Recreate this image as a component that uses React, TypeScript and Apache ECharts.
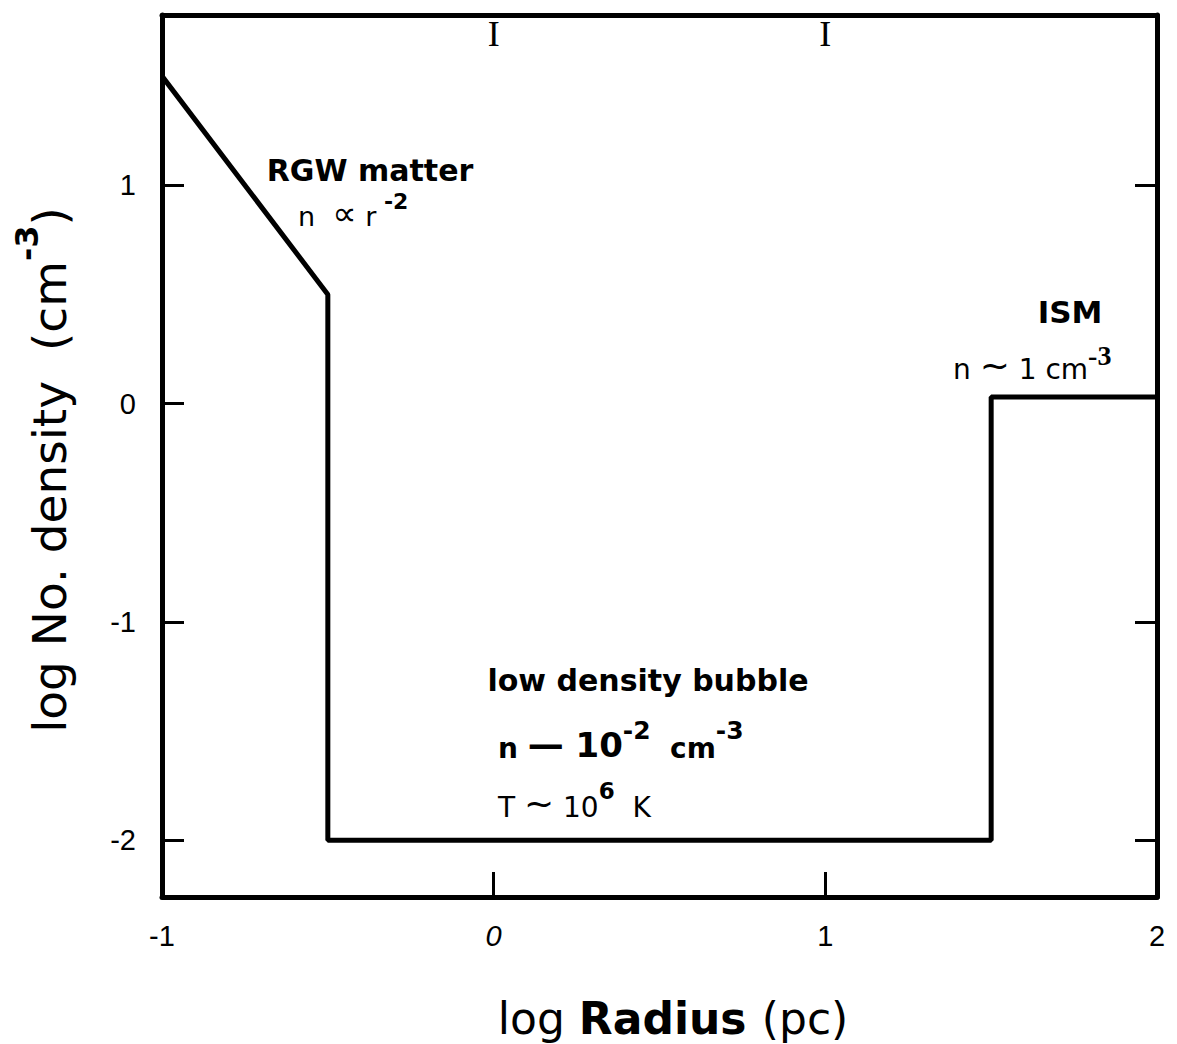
import React, { useEffect, useRef } from "react";
import * as echarts from "echarts";

const xRange = [-1, 2];
const yRange = [-2.26, 1.78];
const xTickLabels = [-1, 0, 1, 2];
const xInnerTicks = [0, 1];
const yTicksLeft = [1, 0, -1, -2];
const yTicksRight = [1, -1, -2];
const profileLogR = [-1, -0.5, -0.5, 1.5, 1.5, 2];
const profileLogN = [1.5, 0.5, -2, -2, 0.03, 0.03];

const FONT = "DejaVu Sans";
const LABEL_FONT = "Liberation Sans";

export default function App() {
  const ref = useRef<HTMLDivElement>(null);
  useEffect(() => {
    if (!ref.current) return;
    const chart = echarts.init(ref.current, null, { renderer: "svg" });
    const data = profileLogR.map((r, i) => [r, profileLogN[i]]);
    const axisLine = { show: true, onZero: false, lineStyle: { color: "#000", width: 5 } };
    const sup = (fs: number, lh: number, bold = true) => ({
      fontSize: fs,
      fontFamily: FONT,
      fontWeight: bold ? "bold" : "normal",
      verticalAlign: "top",
      lineHeight: lh,
      fill: "#000",
    });
    const base = (fs: number, lh: number, bold = false) => ({
      fontSize: fs,
      fontFamily: FONT,
      fontWeight: bold ? "bold" : "normal",
      verticalAlign: "bottom",
      lineHeight: lh,
      fill: "#000",
    });
    chart.setOption({
      animation: false,
      backgroundColor: "#fff",
      grid: { left: 162, right: 20, top: 15, bottom: 147 },
      xAxis: [
        {
          type: "value",
          min: xRange[0],
          max: xRange[1],
          position: "bottom",
          axisLine,
          splitLine: { show: false },
          axisTick: {
            show: true,
            inside: true,
            length: 25,
            customValues: xInnerTicks,
            lineStyle: { color: "#000", width: 3 },
          },
          axisLabel: {
            show: true,
            customValues: xTickLabels,
            margin: 24,
            color: "#000",
            fontSize: 29,
            fontFamily: LABEL_FONT,
            formatter: (v: number) => (v === 0 ? "{i|0}" : String(v)),
            rich: { i: { fontStyle: "italic", fontSize: 29, fontFamily: LABEL_FONT, color: "#000" } },
          },
        },
        {
          type: "value",
          min: xRange[0],
          max: xRange[1],
          position: "top",
          axisLine,
          splitLine: { show: false },
          axisTick: { show: false },
          axisLabel: {
            show: true,
            inside: true,
            customValues: xInnerTicks,
            margin: 1,
            color: "#000",
            fontSize: 36,
            fontFamily: "Liberation Serif",
            formatter: () => "I",
          },
        },
      ],
      yAxis: [
        {
          type: "value",
          min: yRange[0],
          max: yRange[1],
          position: "left",
          axisLine,
          splitLine: { show: false },
          axisTick: {
            show: true,
            inside: true,
            length: 22,
            customValues: yTicksLeft,
            lineStyle: { color: "#000", width: 3 },
          },
          axisLabel: {
            show: true,
            customValues: yTicksLeft,
            margin: 26,
            color: "#000",
            fontSize: 29,
            fontFamily: LABEL_FONT,
          },
        },
        {
          type: "value",
          min: yRange[0],
          max: yRange[1],
          position: "right",
          axisLine,
          splitLine: { show: false },
          axisTick: {
            show: true,
            inside: true,
            length: 22,
            customValues: yTicksRight,
            lineStyle: { color: "#000", width: 3 },
          },
          axisLabel: { show: false },
        },
      ],
      series: [
        {
          type: "line",
          data,
          xAxisIndex: 0,
          yAxisIndex: 0,
          symbol: "none",
          lineStyle: { color: "#000", width: 5 },
          clip: false,
        },
      ],
      graphic: [
        {
          type: "text",
          x: 42,
          y: 470,
          rotation: Math.PI / 2,
          style: {
            text: "{a|log No. density  (cm}{s|-3}{a|)}",
            textAlign: "center",
            textVerticalAlign: "middle",
            rich: {
              a: base(47, 62),
              s: sup(32, 62),
            },
          },
        },
        {
          type: "text",
          x: 673,
          y: 1018,
          style: {
            text: "{a|log }{b|Radius }{a|(pc)}",
            textAlign: "center",
            textVerticalAlign: "middle",
            rich: {
              a: { fontSize: 44, fontFamily: FONT, fill: "#000" },
              b: { fontSize: 44, fontFamily: FONT, fontWeight: "bold", fill: "#000" },
            },
          },
        },
        {
          type: "text",
          x: 370,
          y: 170,
          style: {
            text: "RGW matter",
            textAlign: "center",
            textVerticalAlign: "middle",
            font: `bold 30px "${FONT}"`,
            fill: "#000",
          },
        },
        {
          type: "text",
          x: 298,
          y: 210,
          style: {
            text: "{a|n  }{p|∝}{a| r}{s| -2}",
            textAlign: "left",
            textVerticalAlign: "middle",
            rich: {
              a: base(27, 40),
              p: base(34, 40),
              s: sup(22, 40),
            },
          },
        },
        {
          type: "text",
          x: 1070,
          y: 312,
          style: {
            text: "ISM",
            textAlign: "center",
            textVerticalAlign: "middle",
            font: `bold 31px "${FONT}"`,
            fill: "#000",
          },
        },
        {
          type: "text",
          x: 953,
          y: 362,
          style: {
            text: "{a|n }{t|~}{a| 1 cm}{s|-3}",
            textAlign: "left",
            textVerticalAlign: "middle",
            rich: {
              a: base(28, 42),
              t: base(36, 42),
              s: { fontSize: 28, fontFamily: "Liberation Serif", fontWeight: "bold", verticalAlign: "top", lineHeight: 42, fill: "#000" },
            },
          },
        },
        {
          type: "text",
          x: 648,
          y: 680,
          style: {
            text: "low density bubble",
            textAlign: "center",
            textVerticalAlign: "middle",
            font: `bold 30px "${FONT}"`,
            fill: "#000",
          },
        },
        {
          type: "text",
          x: 498,
          y: 740,
          style: {
            text: "{a|n }{d|—}{b| 10}{s|-2}{a|  cm}{s|-3}",
            textAlign: "left",
            textVerticalAlign: "middle",
            rich: {
              a: base(28, 44, true),
              d: base(36, 44, true),
              b: base(34, 44, true),
              s: sup(25, 44),
            },
          },
        },
        {
          type: "text",
          x: 498,
          y: 800,
          style: {
            text: "{a|T }{t|~}{a| 10}{s|6}{a|  K}",
            textAlign: "left",
            textVerticalAlign: "middle",
            rich: {
              a: base(28, 42),
              t: base(36, 42),
              s: sup(23, 42),
            },
          },
        },
      ],
    });
    return () => chart.dispose();
  }, []);
  return (
    <div
      ref={ref}
      style={{ position: "fixed", left: 0, top: 0, width: 1177, height: 1044, background: "#fff" }}
    />
  );
}
